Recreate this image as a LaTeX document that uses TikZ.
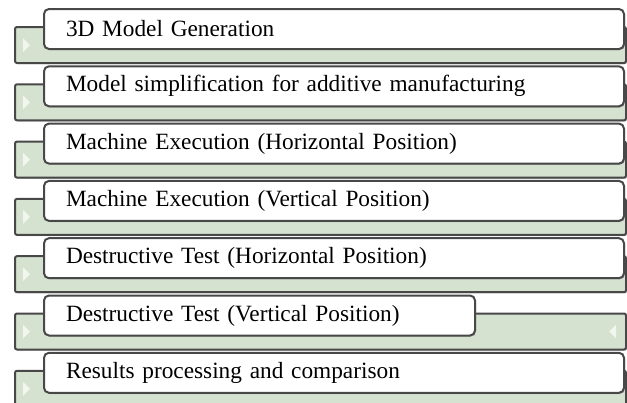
\documentclass[tikz,border=0pt]{standalone}
\usepackage{fontspec}
\setmainfont{Liberation Serif}
\usetikzlibrary{calc,shadows}
\definecolor{barfill}{RGB}{213,226,207}
\definecolor{trifill}{RGB}{241,246,239}
\definecolor{edge}{RGB}{72,72,72}
\begin{document}
\begin{tikzpicture}[x=1pt,y=-1pt,
  greenbar/.style={draw=edge, line width=2pt, fill=barfill, rounded corners=2pt,
    minimum width=611pt, minimum height=36pt, anchor=north west, inner sep=0pt,
    drop shadow={shadow xshift=1pt, shadow yshift=-1.2pt, opacity=0.45}},
  whitebox/.style={draw=edge, line width=2pt, fill=white, rounded corners=5pt,
    minimum height=40pt, anchor=north west, inner xsep=22pt, inner ysep=0pt, align=left,
    font=\fontsize{23.3}{27}\selectfont,
    drop shadow={shadow xshift=1pt, shadow yshift=-1.2pt, opacity=0.45}},
  tri/.style={fill=trifill, draw=none}]
\useasboundingbox (0,0) rectangle (627,402);
\clip (0,0) rectangle (627,402);
\fill[white] (0,0) rectangle (627,402);
\foreach \i/\txt/\w in {0/{3D Model Generation}/536,
  1/{Model simplification for additive manufacturing}/536,
  2/{Machine Execution (Horizontal Position)}/536,
  3/{Machine Execution (Vertical Position)}/536,
  4/{Destructive Test (Horizontal Position)}/536,
  5/{Destructive Test (Vertical Position)}/387,
  6/{Results processing and comparison}/536}{
  \node[greenbar] (g\i) at (14, 26+57.3*\i) {};
  \fill[tri] ($(g\i.west)+(9,-7)$) -- ($(g\i.west)+(16,0)$) -- ($(g\i.west)+(9,7)$) -- cycle;
  \node[whitebox, text width=\w pt] (w\i) at (43, 8+57.3*\i) {\txt};
}
\fill[tri] ($(g5.east)+(-11,-7)$) -- ($(g5.east)+(-18,0)$) -- ($(g5.east)+(-11,7)$) -- cycle;
\end{tikzpicture}
\end{document}
